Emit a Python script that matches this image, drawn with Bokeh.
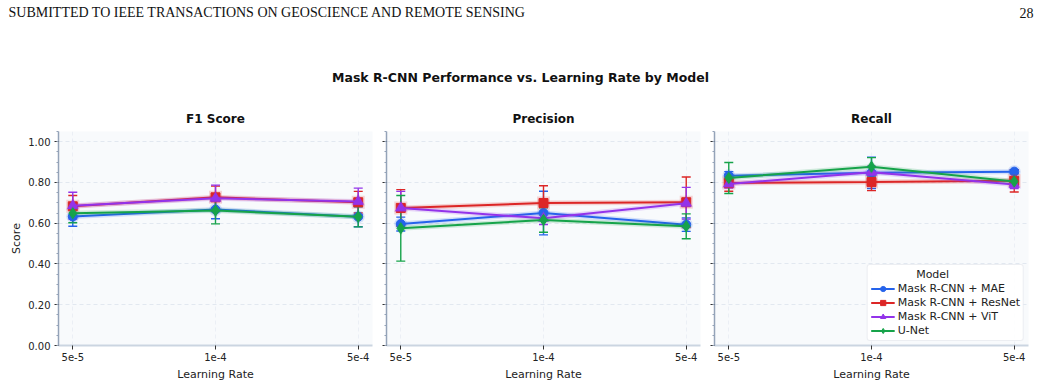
from bokeh.plotting import figure
from bokeh.models import (Range1d, ColumnDataSource, Whisker, TeeHead, Legend,
                          LegendItem, FixedTicker, Label)
from bokeh.layouts import column, row
from bokeh.embed import file_html
from bokeh.resources import INLINE

# ---- data -------------------------------------------------------------
learning_rates = ["5e-5", "1e-4", "5e-4"]
models = ["Mask R-CNN + MAE", "Mask R-CNN + ResNet", "Mask R-CNN + ViT", "U-Net"]

f1_mean = {
    "Mask R-CNN + MAE":    [0.633, 0.667, 0.632],
    "Mask R-CNN + ResNet": [0.683, 0.727, 0.703],
    "Mask R-CNN + ViT":    [0.686, 0.722, 0.707],
    "U-Net":               [0.649, 0.662, 0.632],
}
f1_std = {
    "Mask R-CNN + MAE":    [0.048, 0.045, 0.049],
    "Mask R-CNN + ResNet": [0.053, 0.055, 0.053],
    "Mask R-CNN + ViT":    [0.066, 0.065, 0.065],
    "U-Net":               [0.047, 0.065, 0.050],
}
precision_mean = {
    "Mask R-CNN + MAE":    [0.596, 0.650, 0.593],
    "Mask R-CNN + ResNet": [0.675, 0.699, 0.703],
    "Mask R-CNN + ViT":    [0.675, 0.624, 0.698],
    "U-Net":               [0.575, 0.616, 0.585],
}
precision_std = {
    "Mask R-CNN + MAE":    [0.034, 0.107, 0.033],
    "Mask R-CNN + ResNet": [0.090, 0.085, 0.124],
    "Mask R-CNN + ViT":    [0.081, 0.030, 0.078],
    "U-Net":               [0.161, 0.060, 0.061],
}
recall_mean = {
    "Mask R-CNN + MAE":    [0.833, 0.847, 0.853],
    "Mask R-CNN + ResNet": [0.797, 0.802, 0.808],
    "Mask R-CNN + ViT":    [0.793, 0.850, 0.790],
    "U-Net":               [0.822, 0.877, 0.805],
}
recall_std = {
    "Mask R-CNN + MAE":    [0.020, 0.077, 0.010],
    "Mask R-CNN + ResNet": [0.040, 0.042, 0.055],
    "Mask R-CNN + ViT":    [0.020, 0.030, 0.020],
    "U-Net":               [0.076, 0.045, 0.020],
}

y_ticks = [0.0, 0.2, 0.4, 0.6, 0.8, 1.0]
y_minor = [i * 0.05 for i in range(22)]

colors = {
    "Mask R-CNN + MAE": "#2563eb",
    "Mask R-CNN + ResNet": "#dc2626",
    "Mask R-CNN + ViT": "#9333ea",
    "U-Net": "#16a34a",
}
markers = {
    "Mask R-CNN + MAE": "circle",
    "Mask R-CNN + ResNet": "square",
    "Mask R-CNN + ViT": "triangle",
    "U-Net": "diamond",
}
marker_sizes = {"circle": 9, "square": 9, "triangle": 10, "diamond": 11}

FONT = "DejaVu Sans"
TEXT = "#222222"

panels = [
    ("F1 Score", f1_mean, f1_std),
    ("Precision", precision_mean, precision_std),
    ("Recall", recall_mean, recall_std),
]

# ---- header strip with page header, suptitle and panel titles -----------
head = figure(width=1040, height=131, x_range=Range1d(0, 1040), y_range=Range1d(131, 0),
              min_border=0, toolbar_location=None, output_backend="svg",
              x_axis_type=None, y_axis_type=None)
head.outline_line_color = None
head.grid.visible = False
head.add_layout(Label(x=8, y=12, text="SUBMITTED TO IEEE TRANSACTIONS ON GEOSCIENCE AND REMOTE SENSING",
                      text_font="Liberation Serif", text_font_size="14px", text_color="#111111",
                      text_baseline="middle", text_align="left"))
head.add_layout(Label(x=1033, y=12, text="28", text_font="Liberation Serif", text_font_size="14px",
                      text_color="#111111", text_baseline="middle", text_align="right"))
head.add_layout(Label(x=520, y=77, text="Mask R-CNN Performance vs. Learning Rate by Model",
                      text_font=FONT, text_font_size="12.5px", text_font_style="bold",
                      text_color="#111111", text_baseline="middle", text_align="center"))

frame_w = 314
borders = [(58, 6), (8, 6), (8, 12)]
figs = []
x_left = 0
for idx, ((title, means, stds), (bl, br)) in enumerate(zip(panels, borders)):
    w = bl + frame_w + br
    head.add_layout(Label(x=x_left + bl + frame_w / 2, y=118, text=title, text_font=FONT,
                          text_font_size="12px", text_font_style="bold", text_color="#111111",
                          text_baseline="middle", text_align="center"))
    x_left += w

    p = figure(width=w, height=255, x_range=Range1d(-0.1, 2.1), y_range=Range1d(0, 1.05),
               min_border_left=bl, min_border_right=br, min_border_top=0, min_border_bottom=41,
               toolbar_location=None, output_backend="svg")
    p.background_fill_color = "#f8fafc"
    p.border_fill_color = "white"
    p.outline_line_color = None

    # axes
    p.xaxis.ticker = FixedTicker(ticks=list(range(len(learning_rates))))
    p.xaxis.major_label_overrides = {i: lr for i, lr in enumerate(learning_rates)}
    p.xaxis.axis_label = "Learning Rate"
    p.xaxis.axis_line_color = "#cbd5e1"
    p.xaxis.axis_line_width = 2
    p.xaxis.major_tick_line_color = "#333333"
    p.xaxis.major_tick_out = 4
    p.xaxis.major_tick_in = 0
    p.xaxis.minor_tick_line_color = None
    p.xaxis.major_label_standoff = 3
    p.xaxis.axis_label_standoff = 4

    p.yaxis.ticker = FixedTicker(ticks=y_ticks, minor_ticks=y_minor)
    p.yaxis.axis_line_color = "#94a3b8"
    p.yaxis.axis_line_width = 1.5
    p.yaxis.major_tick_line_color = "#333333"
    p.yaxis.major_tick_out = 4
    p.yaxis.major_tick_in = 0
    p.yaxis.minor_tick_line_color = "#94a3b8"
    p.yaxis.minor_tick_out = 2
    p.yaxis.minor_tick_in = 0
    if idx == 0:
        p.yaxis.major_label_overrides = {t: f"{t:.2f}" for t in y_ticks}
        p.yaxis.axis_label = "Score"
        p.yaxis.major_label_standoff = 4
        p.yaxis.axis_label_standoff = 2
    else:
        # shared y: ticks only, no labels
        p.yaxis.major_label_overrides = {t: "" for t in y_ticks}
        p.yaxis.major_label_standoff = 0

    for ax in (p.xaxis, p.yaxis):
        ax.major_label_text_font = FONT
        ax.major_label_text_font_size = "10px"
        ax.major_label_text_color = TEXT
        ax.axis_label_text_font = FONT
        ax.axis_label_text_font_size = "11px"
        ax.axis_label_text_font_style = "normal"
        ax.axis_label_text_color = TEXT

    p.grid.grid_line_color = "#e2e8f0"
    p.grid.grid_line_dash = "4 3"
    p.grid.grid_line_width = 1
    p.xgrid.grid_line_alpha = 0.6

    items = []
    for m in models:
        c = colors[m]
        mk = markers[m]
        mu = means[m]
        sd = stds[m]
        src = ColumnDataSource(dict(
            x=list(range(len(learning_rates))),
            y=mu,
            upper=[a + b for a, b in zip(mu, sd)],
            lower=[a - b for a, b in zip(mu, sd)],
        ))
        # soft halo beneath the series
        p.line("x", "y", source=src, line_color=c, line_width=5, line_alpha=0.18)
        p.scatter("x", "y", source=src, marker=mk, size=marker_sizes[mk] + 4,
                  fill_color=c, fill_alpha=0.18, line_color=None)
        ln = p.line("x", "y", source=src, line_color=c, line_width=2)
        wh = Whisker(source=src, base="x", upper="upper", lower="lower", dimension="height",
                     line_color=c, line_width=1.4,
                     upper_head=TeeHead(size=9, line_color=c, line_width=1.4),
                     lower_head=TeeHead(size=9, line_color=c, line_width=1.4))
        p.add_layout(wh)
        sc = p.scatter("x", "y", source=src, marker=mk, size=marker_sizes[mk],
                       fill_color=c, line_color=c, line_width=1)
        items.append(LegendItem(label=m, renderers=[ln, sc]))

    if idx == 2:
        # non-breaking spaces push the title towards the middle of the box
        leg = Legend(items=items, location="bottom_right", title="\u00a0" * 13 + "Model")
        leg.title_text_font = FONT
        leg.title_text_font_size = "11px"
        leg.title_text_font_style = "normal"
        leg.title_text_color = TEXT
        leg.title_standoff = 1
        leg.label_text_font = FONT
        leg.label_text_font_size = "11px"
        leg.label_text_color = TEXT
        leg.label_height = 13
        leg.glyph_height = 13
        leg.glyph_width = 24
        leg.label_standoff = 3
        leg.spacing = 1
        leg.padding = 3
        leg.margin = 4
        leg.border_line_color = "#d9dee5"
        leg.border_radius = 3
        leg.background_fill_color = "white"
        leg.background_fill_alpha = 0.9
        p.add_layout(leg)

    figs.append(p)

layout = column(head, row(*figs, spacing=0), spacing=0)
open("out.html", "w").write(file_html(layout, INLINE))
